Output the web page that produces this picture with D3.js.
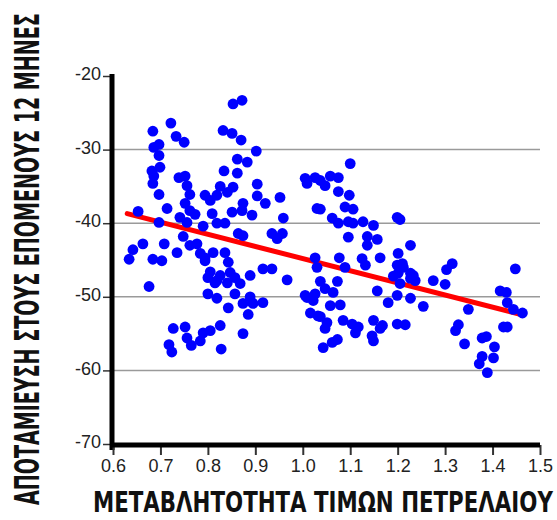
<!DOCTYPE html>
<html>
<head>
<meta charset="utf-8">
<script src="https://cdn.jsdelivr.net/npm/d3@7"></script>
<style>
  body { margin: 0; background: #fff; }
  svg { display: block; }
</style>
</head>
<body>
<div id="chart"></div>
<script>
// Oil price volatility (x) vs savings over next 12 months (y)
const volatility = [
  0.722, 0.684, 0.733, 0.750, 0.697, 0.686, 0.697, 0.699, 0.682, 0.686,
  0.739, 0.752, 0.684, 0.756, 0.697, 0.762, 0.794, 0.819, 0.752, 0.714,
  0.653, 0.805, 0.762, 0.773, 0.741, 0.809, 0.756, 0.697, 0.790, 0.819,
  0.748, 0.663, 0.708, 0.642, 0.762, 0.777, 0.735, 0.784, 0.811, 0.634,
  0.684, 0.703, 0.794, 0.805, 0.800, 0.819, 0.676, 0.800, 0.819, 0.727,
  0.752, 0.826, 0.756, 0.790, 0.805, 0.784, 0.718, 0.765, 0.724, 0.872,
  0.853, 0.832, 0.851, 0.870, 0.902, 0.862, 0.883, 0.834, 0.862, 0.904,
  0.826, 0.853, 1.005, 1.026, 1.009, 0.904, 0.952, 0.841, 0.874, 0.921,
  0.851, 0.872, 0.893, 0.959, 0.836, 0.864, 0.874, 0.935, 0.957, 0.946,
  1.030, 0.836, 0.794, 0.843, 0.916, 0.935, 0.847, 0.826, 0.857, 0.889,
  0.967, 0.815, 0.841, 0.868, 0.857, 0.889, 0.874, 0.895, 0.916, 0.843,
  0.885, 1.009, 1.022, 1.016, 1.032, 0.874, 0.828, 1.100, 1.037, 1.058,
  1.075, 1.047, 1.075, 1.098, 1.037, 1.089, 1.106, 1.062, 1.075, 1.096,
  1.106, 1.127, 1.149, 1.199, 1.205, 1.096, 1.136, 1.157, 1.136, 1.227,
  1.026, 1.077, 1.125, 1.163, 1.201, 1.030, 1.089, 1.132, 1.199, 1.212,
  1.201, 1.227, 1.037, 1.073, 1.047, 1.191, 1.227, 1.064, 1.005, 1.026,
  1.157, 1.199, 1.227, 1.180, 1.058, 1.079, 1.037, 1.085, 1.051, 1.104,
  1.117, 1.149, 1.168, 1.199, 1.216, 1.047, 1.111, 1.163, 1.146, 1.073,
  1.062, 1.149, 1.043, 1.210, 1.233, 1.237, 1.205, 1.254, 1.275, 1.300,
  1.315, 1.303, 1.349, 1.416, 1.429, 1.431, 1.448, 1.444, 1.463, 1.328,
  1.322, 1.423, 1.431, 1.341, 1.378, 1.387, 1.404, 1.378, 1.402, 1.372,
  1.389
];
const savings = [
  -26.4, -27.5, -28.2, -29.0, -29.3, -29.7, -30.8, -32.4, -32.9, -33.6,
  -33.8, -33.6, -34.6, -34.9, -36.1, -36.1, -36.2, -36.2, -37.3, -38.0,
  -38.4, -36.9, -38.3, -38.8, -39.2, -38.7, -39.9, -39.9, -40.4, -40.0,
  -41.8, -42.8, -42.8, -43.6, -43.0, -42.8, -44.0, -44.1, -44.0, -44.9,
  -44.9, -45.1, -45.1, -46.6, -47.4, -47.8, -48.6, -49.6, -50.2, -54.3,
  -54.1, -53.9, -55.6, -54.9, -54.6, -56.0, -56.5, -56.6, -57.5, -23.3,
  -23.8, -27.4, -27.8, -28.7, -30.2, -31.3, -31.7, -32.9, -33.2, -34.7,
  -35.0, -35.1, -33.9, -33.8, -34.6, -36.3, -36.5, -35.8, -37.3, -37.3,
  -38.5, -38.3, -38.9, -39.3, -40.0, -41.4, -41.7, -41.4, -41.4, -42.1,
  -38.0, -44.0, -44.7, -45.3, -46.2, -46.2, -46.7, -47.1, -47.4, -47.1,
  -47.7, -48.1, -48.1, -48.2, -49.6, -50.0, -50.9, -50.9, -50.8, -51.5,
  -52.4, -50.1, -50.5, -52.2, -52.6, -55.0, -57.1, -31.9, -34.2, -33.6,
  -33.8, -34.9, -35.7, -36.2, -38.1, -37.8, -38.1, -39.3, -40.0, -39.8,
  -40.0, -39.8, -40.3, -39.2, -39.5, -41.9, -41.8, -42.2, -43.0, -43.0,
  -44.7, -44.7, -44.8, -44.7, -44.1, -46.0, -46.0, -45.7, -45.7, -46.0,
  -46.8, -46.8, -47.9, -47.9, -48.9, -47.2, -47.5, -49.4, -49.8, -49.6,
  -49.2, -49.8, -50.2, -50.8, -51.2, -51.1, -52.7, -53.2, -53.5, -53.7,
  -54.1, -53.2, -53.9, -53.7, -53.8, -54.3, -54.9, -54.3, -55.3, -55.8,
  -56.2, -56.0, -56.9, -45.5, -47.1, -47.8, -48.2, -51.3, -47.8, -48.3,
  -45.5, -46.3, -51.7, -49.2, -49.4, -50.8, -46.2, -51.7, -52.2, -53.8,
  -54.6, -54.1, -54.1, -56.4, -55.6, -55.4, -56.8, -58.1, -58.3, -59.1,
  -60.3
];

// fitted trend line end points
const fitX = [0.63, 1.46];
const fitY = [-38.7, -52.4];

const xTicks = [0.6, 0.7, 0.8, 0.9, 1.0, 1.1, 1.2, 1.3, 1.4, 1.5];
const yTicks = [-20, -30, -40, -50, -60, -70];
const gridValues = [-30, -40, -50, -60];

const xTitle = "ΜΕΤΑΒΛΗΤΟΤΗΤΑ ΤΙΜΩΝ ΠΕΤΡΕΛΑΙΟΥ";
const yTitle = "ΑΠΟΤΑΜΙΕΥΣΗ ΣΤΟΥΣ ΕΠΟΜΕΝΟΥΣ 12 ΜΗΝΕΣ";

const width = 557, height = 520;
const points = volatility.map((v, i) => ({ x: v, y: savings[i] }));

const svg = d3.select("#chart").append("svg")
    .attr("width", width)
    .attr("height", height);

const x = d3.scaleLinear().domain([0.6, 1.5]).range([113, 540]);
const y = d3.scaleLinear().domain([-70, -20]).range([444, 76]);

const titleFont = "'Liberation Sans Narrow', 'Arial Narrow', 'DejaVu Sans Condensed', 'Liberation Sans', sans-serif";
const tickFont = "'Liberation Sans', Arial, sans-serif";

// Gridlines
svg.append("g")
    .selectAll("line")
    .data(gridValues)
    .join("line")
    .attr("x1", x(0.6))
    .attr("x2", x(1.5))
    .attr("y1", d => y(d))
    .attr("y2", d => y(d))
    .attr("stroke", "#9a9a9a")
    .attr("stroke-width", 1.5);

// Trend line (drawn under the dots)
svg.append("line")
    .attr("x1", x(fitX[0]))
    .attr("y1", y(fitY[0]))
    .attr("x2", x(fitX[1]))
    .attr("y2", y(fitY[1]))
    .attr("stroke", "#ff0000")
    .attr("stroke-width", 5)
    .attr("stroke-linecap", "round");

// Dots
svg.append("g")
    .selectAll("circle")
    .data(points)
    .join("circle")
    .attr("cx", d => x(d.x))
    .attr("cy", d => y(d.y))
    .attr("r", 5.4)
    .attr("fill", "#0000ff");

// Y axis (plain hyphen minus like the original)
const yAxis = svg.append("g")
    .attr("transform", "translate(112,0)")
    .call(d3.axisLeft(y).tickValues(yTicks).tickSize(9).tickSizeOuter(0).tickPadding(2)
        .tickFormat(d => String(d)));
yAxis.select(".domain").remove();
yAxis.append("line")
    .attr("x1", 0).attr("x2", 0)
    .attr("y1", y(-20) - 2).attr("y2", y(-70) + 6)
    .attr("stroke", "#000").attr("stroke-width", 5);
yAxis.selectAll(".tick line").attr("stroke", "#333").attr("stroke-width", 1.5);
yAxis.selectAll(".tick text")
    .attr("font-family", tickFont)
    .attr("font-size", 18)
    .attr("fill", "#222")
    .attr("dy", "0.2em");

// X axis
const xAxis = svg.append("g")
    .attr("transform", "translate(0,445)")
    .call(d3.axisBottom(x).tickValues(xTicks).tickSize(10).tickSizeOuter(0).tickPadding(4)
        .tickFormat(d3.format(".1f")));
xAxis.select(".domain").remove();
xAxis.append("line")
    .attr("x1", x(0.6) - 3).attr("x2", x(1.5))
    .attr("y1", 0).attr("y2", 0)
    .attr("stroke", "#000").attr("stroke-width", 5);
xAxis.selectAll(".tick line").attr("stroke", "#333").attr("stroke-width", 2);
xAxis.selectAll(".tick text")
    .attr("font-family", tickFont)
    .attr("font-size", 18)
    .attr("fill", "#222");

// Axis titles: condensed by a horizontal scale so they fit the given length
function fitTitle(txt, size, len, place) {
    const t = svg.append("text")
        .attr("font-family", titleFont)
        .attr("font-weight", "bold")
        .attr("font-size", size)
        .attr("fill", "#111")
        .text(txt);
    const k = len / t.node().getComputedTextLength();
    t.attr("transform", `${place} scale(${k},1)`);
    return t;
}
fitTitle(xTitle, 28, 460, "translate(93,512)");
fitTitle(yTitle, 33, 492, "translate(39,505) rotate(-90)");
</script>
</body>
</html>
